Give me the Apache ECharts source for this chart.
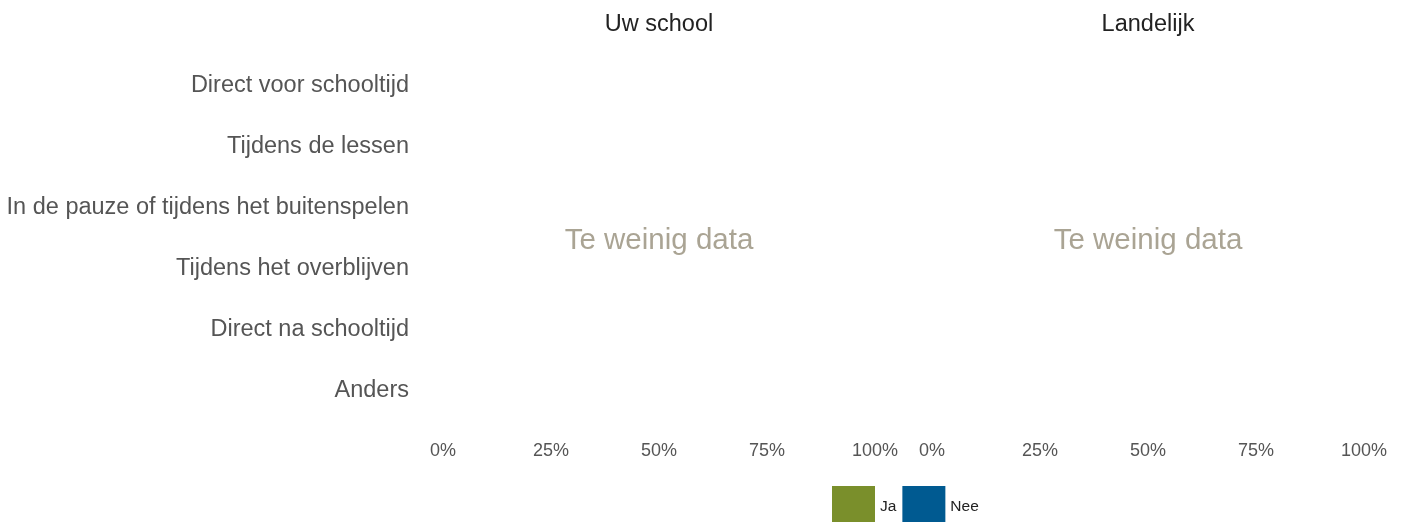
<!DOCTYPE html>
<html>
<head>
<meta charset="utf-8">
<script src="https://cdn.jsdelivr.net/npm/echarts@6/dist/echarts.min.js"></script>
<style>html,body{margin:0;padding:0;background:#fff;}#c{width:1402px;height:522px;}</style>
</head>
<body>
<div id="c"></div>
<script>
var categories = ["Direct voor schooltijd","Tijdens de lessen","In de pauze of tijdens het buitenspelen","Tijdens het overblijven","Direct na schooltijd","Anders"];
var panels = ["Uw school","Landelijk"];
var seriesNames = ["Ja","Nee"];
var seriesColors = ["#7a8f2b","#005a91"];
// Too little data: no values shown
var schoolJa = [null,null,null,null,null,null];
var schoolNee = [null,null,null,null,null,null];
var landelijkJa = [null,null,null,null,null,null];
var landelijkNee = [null,null,null,null,null,null];
var xTicks = [0,25,50,75,100];
var noDataText = "Te weinig data";

var FONT = "'Liberation Sans', Arial, sans-serif";
var chart = echarts.init(document.getElementById('c'));
var grids = [
  {left:443, top:55, width:432, height:366},
  {left:932, top:55, width:432, height:366}
];
function xAxis(i){
  return {gridIndex:i,type:'value',min:xTicks[0],max:xTicks[xTicks.length-1],interval:xTicks[1]-xTicks[0],
    axisLine:{show:false},axisTick:{show:false},splitLine:{show:false},
    axisLabel:{formatter:'{value}%',color:'#555',fontSize:18,fontFamily:FONT,margin:21}};
}
function yAxis(i){
  return {gridIndex:i,type:'category',data:categories,inverse:true,
    axisLine:{show:false},axisTick:{show:false},splitLine:{show:false},
    axisLabel:{show:i===0,color:'#555',fontSize:23.5,fontFamily:FONT,margin:34}};
}
var data = [[schoolJa,schoolNee],[landelijkJa,landelijkNee]];
var series = [];
for (var p=0;p<2;p++){
  for (var s=0;s<2;s++){
    series.push({name:seriesNames[s],type:'bar',stack:'p'+p,xAxisIndex:p,yAxisIndex:p,
      data:data[p][s],itemStyle:{color:seriesColors[s]},barWidth:'70%'});
  }
}
var graphics = [];
for (var p=0;p<2;p++){
  var cx = grids[p].left + grids[p].width/2;
  graphics.push({type:'text',x:cx,y:24.5,style:{text:panels[p],textAlign:'center',textVerticalAlign:'middle',font:'23.5px '+FONT,fill:'#222'}});
  graphics.push({type:'text',x:cx,y:241,style:{text:noDataText,textAlign:'center',textVerticalAlign:'middle',font:'29.5px '+FONT,fill:'#aaa494'}});
}
chart.setOption({
  animation:false,
  textStyle:{fontFamily:FONT},
  grid:grids,
  xAxis:[xAxis(0),xAxis(1)],
  yAxis:[yAxis(0),yAxis(1)],
  legend:{data:seriesNames,left:832,top:486,padding:0,itemWidth:43,itemHeight:36,itemGap:6,icon:'rect',
    formatter:function(n){return '{t|'+n+'}';},
    textStyle:{color:'#222',fontSize:15.5,fontFamily:FONT,
      rich:{t:{color:'#222',fontSize:15.5,fontFamily:FONT,padding:[6,0,0,0]}}}},
  series:series,
  graphic:graphics
});
</script>
</body>
</html>
